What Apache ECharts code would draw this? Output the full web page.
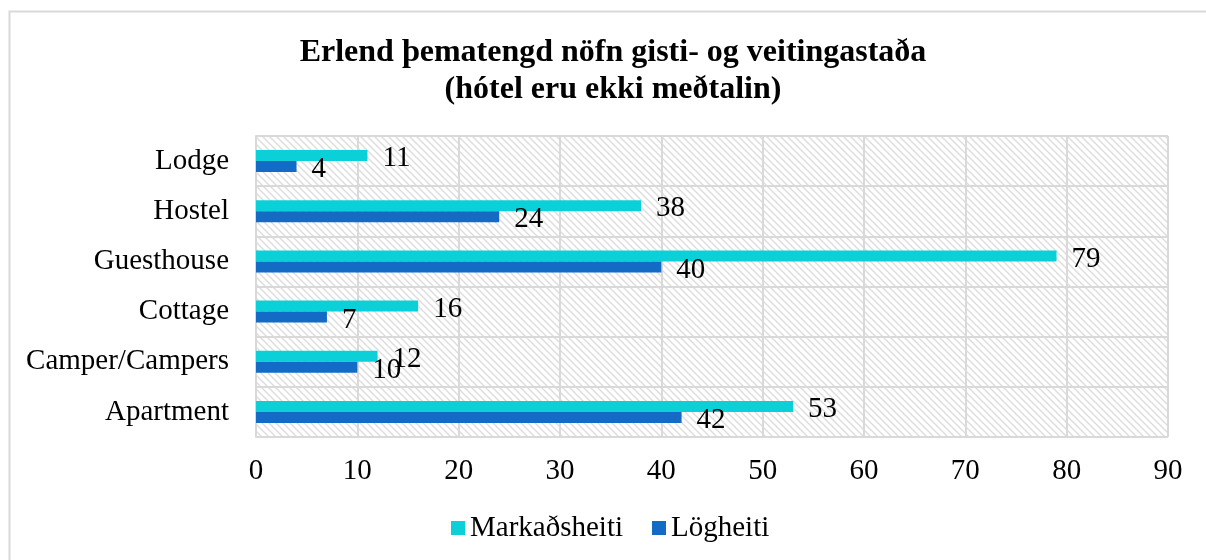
<!DOCTYPE html>
<html><head><meta charset="utf-8">
<script src="https://cdn.jsdelivr.net/npm/echarts@6/dist/echarts.min.js"></script>
<style>html,body{margin:0;padding:0;background:#fff}#c{width:1206px;height:560px}</style>
</head><body><div id="c"></div>
<script>
const categories = ['Apartment','Camper/Campers','Cottage','Guesthouse','Hostel','Lodge'];
const markadsheiti = [53, 12, 16, 79, 38, 11];
const logheiti = [42, 10, 7, 40, 24, 4];
const xTicks = [0,10,20,30,40,50,60,70,80,90];
const titleText = 'Erlend þematengd nöfn gisti- og veitingastaða\n(hótel eru ekki meðtalin)';

const FONT = '"Liberation Serif","Times New Roman",serif';
// hatch pattern
const tile = document.createElement('canvas');
tile.width = 7; tile.height = 7;
const g = tile.getContext('2d');
g.fillStyle = '#ffffff'; g.fillRect(0,0,7,7);
g.strokeStyle = '#dcdcdc'; g.lineWidth = 1.3;
[-7,0,7].forEach(c => { g.beginPath(); g.moveTo(-1, c-1); g.lineTo(8, c+8); g.stroke(); });

const chart = echarts.init(document.getElementById('c'), null, {renderer:'canvas'});
const labelCfg = {show:true, position:'right', distance:15, offset:[0,3], color:'#000', fontFamily:FONT, fontSize:29};
chart.setOption({
  animation:false,
  backgroundColor:'#fff',
  title:{text:titleText, left:613, top:34, padding:0, textAlign:'center',
    textStyle:{fontFamily:FONT, fontWeight:'bold', fontSize:32, lineHeight:37, color:'#000'}},
  graphic:[{type:'rect', left:7, top:9, z:-10, silent:true, shape:{width:1230, height:620},
    style:{fill:null, stroke:'#d9d9d9', lineWidth:2}}],
  legend:{data:['Markaðsheiti','Lögheiti'], left:451, top:513, padding:0, itemWidth:14, itemHeight:14, itemGap:29,
    icon:'rect', textStyle:{fontFamily:FONT, fontSize:29, color:'#000', lineHeight:30}},
  grid:{left:256, right:38, top:136, bottom:123, show:true, borderWidth:0,
    backgroundColor:{image:tile, repeat:'repeat'}},
  xAxis:{type:'value', min:0, max:90, interval:10,
    axisLine:{show:false}, axisTick:{show:false},
    splitLine:{show:true, lineStyle:{color:'#d9d9d9', width:2}},
    axisLabel:{color:'#000', fontFamily:FONT, fontSize:29, margin:20,
      formatter:v => xTicks.includes(v) ? String(v) : ''}},
  yAxis:{type:'category', data:categories,
    axisLine:{show:true, lineStyle:{color:'#d9d9d9', width:2}}, axisTick:{show:false},
    splitLine:{show:true, lineStyle:{color:'#d9d9d9', width:2}},
    axisLabel:{color:'#000', fontFamily:FONT, fontSize:29, margin:27}},
  series:[
    {name:'Markaðsheiti', type:'bar', data:markadsheiti, barWidth:11, barGap:'0%', itemStyle:{color:'#0cd0d8'}, label:labelCfg},
    {name:'Lögheiti', type:'bar', data:logheiti, barWidth:11, barGap:'0%', itemStyle:{color:'#136bc6'}, label:labelCfg}
  ]
});
</script></body></html>
